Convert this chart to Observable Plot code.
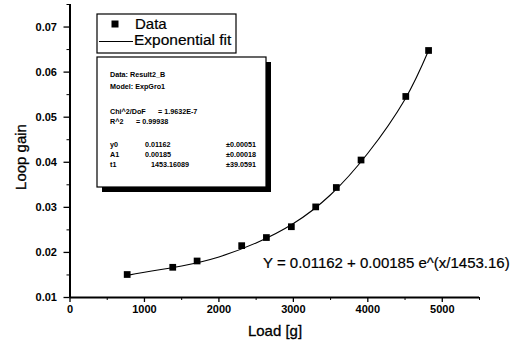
<!DOCTYPE html>
<html>
<head>
<meta charset="utf-8">
<script src="https://cdn.jsdelivr.net/npm/d3@7"></script>
<script src="https://cdn.jsdelivr.net/npm/@observablehq/plot@0.6"></script>
<style>
  html, body { margin: 0; padding: 0; background: #fff; }
  #chart { width: 520px; height: 343px; }
  svg { font-family: "Liberation Sans", Arial, sans-serif; }
</style>
</head>
<body>
<div id="chart"></div>
<script>
// Measured data points
const loads = [768, 1380, 1707, 2306, 2638, 2973, 3300, 3577, 3909, 4510, 4816];
const gains = [0.0151, 0.0167, 0.0181, 0.0215, 0.0233, 0.0257, 0.0301, 0.0344, 0.0405, 0.0546, 0.0648];

// Fitted curve
const fitLoads = [770, 1000, 1500, 2000, 2500, 3000, 3500, 4000, 4500, 4816];
const fitGains = [0.0149, 0.0156, 0.0170, 0.0190, 0.0221, 0.0264, 0.0328, 0.0420, 0.0540, 0.0648];

// Tick values
const xMajor = [0, 1000, 2000, 3000, 4000, 5000];
const xMinor = [500, 1500, 2500, 3500, 4500, 5500];
const yMajor = [0.01, 0.02, 0.03, 0.04, 0.05, 0.06, 0.07];
const yMinor = [0.015, 0.025, 0.035, 0.045, 0.055, 0.065, 0.075];

// Text
const xTitle = "Load [g]";
const yTitle = "Loop gain";
const legendItems = ["Data", "Exponential fit"];
const statsLines = [
  ["Data: Result2_B", "", ""],
  ["Model: ExpGro1", "", ""],
  ["", "", ""],
  ["Chi^2/DoF", "= 1.9632E-7", ""],
  ["R^2", "= 0.99938", ""],
  ["", "", ""],
  ["y0", "0.01162", "±0.00051"],
  ["A1", "0.00185", "±0.00018"],
  ["t1", "1453.16089", "±39.0591"]
];
const equation = "Y = 0.01162 + 0.00185 e^(x/1453.16)";

const data = loads.map((x, i) => ({x, y: gains[i]}));
const fit = fitLoads.map((x, i) => ({x, y: fitGains[i]}));

const chart = Plot.plot({
  width: 520,
  height: 343,
  marginLeft: 69.5,
  marginRight: 41,
  marginTop: 4,
  marginBottom: 46,
  style: {fontFamily: "Liberation Sans, Arial, sans-serif", fontSize: "11px", color: "#000", background: "#fff"},
  x: {domain: [0, 5500]},
  y: {domain: [0.01, 0.075]},
  marks: [
    Plot.axisX(xMajor, {tickSize: 5, tickPadding: 3, fontSize: 11, fontWeight: "bold", stroke: "#000", strokeWidth: 1.3, label: null, tickFormat: d => String(d)}),
    Plot.axisX(xMinor, {tickSize: 3, text: null, stroke: "#000", label: null}),
    Plot.axisY(yMajor, {tickSize: 6, tickPadding: 7, fontSize: 11, fontWeight: "bold", stroke: "#000", strokeWidth: 1.3, label: null, tickFormat: d3.format(".2f")}),
    Plot.axisY(yMinor, {tickSize: 3, text: null, stroke: "#000", label: null}),
    Plot.ruleY([0.01], {stroke: "#000", strokeWidth: 2}),
    Plot.ruleX([0], {stroke: "#000", strokeWidth: 2}),
    Plot.line(fit, {x: "x", y: "y", curve: "natural", stroke: "#000", strokeWidth: 1.1}),
    Plot.dot(data, {x: "x", y: "y", symbol: "square", r: 3.8, fill: "#000", stroke: "none"})
  ]
});
document.getElementById("chart").appendChild(chart);

const svg = d3.select(chart);
const g = svg.append("g")
  .attr("fill", "#000")
  .attr("text-anchor", "start")
  .style("font-family", "Liberation Sans, Arial, sans-serif");

// Axis titles
g.append("text").attr("x", 275).attr("y", 336).attr("text-anchor", "middle").attr("font-size", 15).attr("stroke", "#000").attr("stroke-width", 0.3).text(xTitle);
g.append("text").attr("transform", "translate(26,157) rotate(-90)").attr("text-anchor", "middle").attr("font-size", 15).attr("stroke", "#000").attr("stroke-width", 0.3).text(yTitle);

// Legend box
g.append("rect").attr("x", 97).attr("y", 14).attr("width", 139).attr("height", 39).attr("fill", "#fff").attr("stroke", "#000").attr("stroke-width", 1.2);
g.append("rect").attr("x", 111.5).attr("y", 20.5).attr("width", 7).attr("height", 7).attr("fill", "#000");
g.append("line").attr("x1", 99).attr("x2", 133).attr("y1", 41.5).attr("y2", 41.5).attr("stroke", "#000").attr("stroke-width", 1);
g.append("text").attr("x", 135).attr("y", 29).attr("font-size", 15).attr("stroke", "#000").attr("stroke-width", 0.2).text(legendItems[0]);
g.append("text").attr("x", 134).attr("y", 45).attr("font-size", 15.5).attr("stroke", "#000").attr("stroke-width", 0.2).text(legendItems[1]);

// Stats box with shadow
g.append("rect").attr("x", 102).attr("y", 62).attr("width", 169).attr("height", 130).attr("fill", "#000");
g.append("rect").attr("x", 97).attr("y", 57).attr("width", 169).attr("height", 130).attr("fill", "#fff").attr("stroke", "#000").attr("stroke-width", 1.2);
const lineYs = [77, 89, 101, 114, 124, 136, 147, 157, 167];
statsLines.forEach((row, i) => {
  const y = lineYs[i];
  if (row[0]) g.append("text").attr("x", 110).attr("y", y).attr("font-size", 7.2).attr("font-weight", "bold").text(row[0]);
  if (row[1]) {
    const x = i === 3 ? 158 : (i === 4 ? 136 : (i === 8 ? 151 : 145));
    g.append("text").attr("x", x).attr("y", y).attr("font-size", 7.2).attr("font-weight", "bold").text(row[1]);
  }
  if (row[2]) g.append("text").attr("x", 226).attr("y", y).attr("font-size", 7.2).attr("font-weight", "bold").text(row[2]);
});

// Equation
g.append("text").attr("x", 263).attr("y", 268).attr("font-size", 15).attr("stroke", "#000").attr("stroke-width", 0.2).text(equation);
</script>
</body>
</html>
